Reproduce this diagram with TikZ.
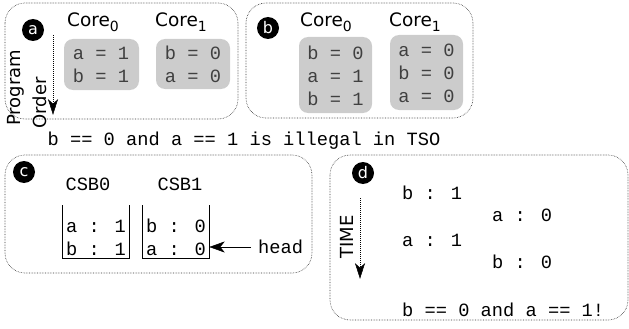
\documentclass[tikz,border=0pt]{standalone}
\usepackage{fontspec}
\setmainfont{DejaVu Sans}
\newfontfamily\monof{Liberation Mono}
\usetikzlibrary{arrows.meta}
\newcommand{\cidx}[1]{\raisebox{-5pt}{\fontsize{14}{14}\selectfont #1}}
\tikzset{
  panel/.style={draw=black!80, densely dotted, line width=0.6pt, rounded corners=20pt},
  badge/.style={circle, fill=black, text=white, minimum size=22pt, inner sep=0pt, font=\fontsize{16}{16}\selectfont},
  corelbl/.style={font=\fontsize{18.5}{20}\selectfont, inner sep=0pt},
  codebox/.style={fill=black!20, rounded corners=9pt},
  code/.style={font=\monof\fontsize{18.7}{23}\selectfont, inner sep=0pt, align=left, text=black!75},
  mono/.style={font=\monof\fontsize{18.7}{23}\selectfont, inner sep=0pt, align=left},
  sidelbl/.style={font=\fontsize{18}{20}\selectfont, inner sep=0pt, rotate=90},
  dotline/.style={densely dotted, line width=1pt},
  headfill/.style={fill=black, draw=black, line width=0.5pt, line join=miter},
}
\begin{document}
\begin{tikzpicture}[x=1pt,y=-1pt]
\useasboundingbox (0,0) rectangle (629,329);
% panels
\draw[panel] (5,3) rectangle (238,119);
\draw[panel] (246,3) rectangle (473,118);
\draw[panel] (5,155) rectangle (312,273);
\draw[panel] (330,155) rectangle (628,320);
% panel a
\node[badge] (ba) at (33,30) {a};
\node[corelbl] (a0) at (93,22) {Core\cidx{0}};
\node[corelbl] (a1) at (181,22) {Core\cidx{1}};
\fill[codebox] (64,39) rectangle (139,90);
\fill[codebox] (156,39) rectangle (230,89);
\node[code] (ac0) at (101,64.5) {a = 1\\b = 1};
\node[code] (ac1) at (193,64.5) {b = 0\\a = 0};
\coordinate (po1) at (53,35);
\coordinate (po2) at (53,114);
\draw[dotline] (po1) -- ([yshift=8pt]po2);
\filldraw[headfill] (po2) -- ++(-4.5,-14) -- ++(4.5,4) -- ++(4.5,-4) -- cycle;
\node[sidelbl] (prog) at (16,88) {Program};
\node[sidelbl] (ord) at (40,103) {Order};
% panel b
\node[badge] (bb) at (268,28) {b};
\node[corelbl] (b0) at (326,22) {Core\cidx{0}};
\node[corelbl] (b1) at (415,22) {Core\cidx{1}};
\fill[codebox] (299,37) rectangle (372,113);
\fill[codebox] (390,35) rectangle (463,110);
\node[code] (bc0) at (335.5,76) {b = 0\\a = 1\\b = 1};
\node[code] (bc1) at (426.5,73) {a = 0\\b = 0\\a = 0};
% statement
\node[mono] (stmt) at (244,141) {b == 0 and a == 1 is illegal in TSO};
% panel c
\node[badge] (bcc) at (24,172) {c};
\node[mono] (csb0) at (88,184) {CSB0};
\node[mono] (csb1) at (180,184) {CSB1};
\draw[line width=0.8pt] (62,205) -- (62,258) -- (129,258) -- (129,205);
\draw[line width=0.8pt] (142,205) -- (142,258) -- (209,258) -- (209,205);
\node[mono] (q0) at (96,237.5) {a : 1\\b : 1};
\node[mono] (q1) at (176,237.5) {b : 0\\a : 0};
\node[mono, anchor=west] (head) at (258,247) {head};
\coordinate (tip) at (210,247);
\draw[line width=0.9pt] (head.west) ++(-7,0) -- ([xshift=8pt]tip);
\filldraw[headfill] (tip) -- ++(14,-5) -- ++(-4,5) -- ++(4,5) -- cycle;
% panel d
\node[badge] (bd) at (363,173) {d};
\coordinate (t1) at (360,198);
\coordinate (t2) at (360,278);
\draw[dotline] (t1) -- ([yshift=8pt]t2);
\filldraw[headfill] (t2) -- ++(-4.5,-14) -- ++(4.5,4) -- ++(4.5,-4) -- cycle;
\node[sidelbl] (time) at (347,237) {TIME};
\node[mono, anchor=west] (d1) at (402,193) {b : 1};
\node[mono, anchor=west] (d2) at (492,215) {a : 0};
\node[mono, anchor=west] (d3) at (402,240) {a : 1};
\node[mono, anchor=west] (d4) at (492,262) {b : 0};
\node[mono, anchor=west] (d5) at (402,310) {b == 0 and a == 1!};
\end{tikzpicture}
\end{document}
